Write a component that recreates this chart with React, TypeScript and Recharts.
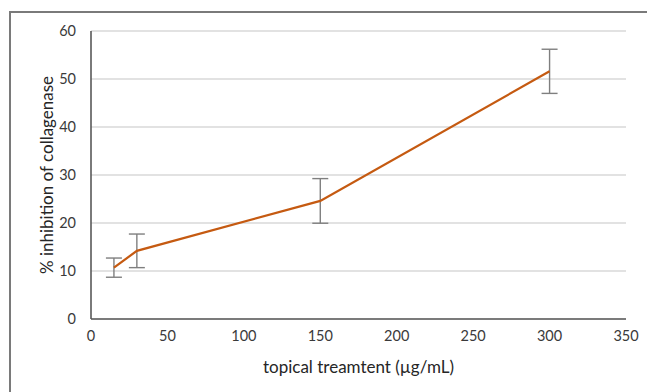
import React from 'react';
import { LineChart, Line, XAxis, YAxis, CartesianGrid, ErrorBar } from 'recharts';

const concentrations = [15, 30, 150, 300];
const inhibition = [10.7, 14.2, 24.6, 51.6];
const errors = [2.0, 3.5, 4.65, 4.6];
const xTicks = [0, 50, 100, 150, 200, 250, 300, 350];
const yTicks = [0, 10, 20, 30, 40, 50, 60];

const data = concentrations.map((c, i) => ({ x: c, y: inhibition[i], err: errors[i] }));

const FONT = 'Lato, "Open Sans", sans-serif';

export default function App() {
  return (
    <div style={{ position: 'absolute', left: 0, top: 0, width: 647, height: 392, background: '#fff', overflow: 'hidden' }}>
      <div style={{ position: 'absolute', left: 9, top: 11, width: 660, height: 400, borderLeft: '2px solid #7a7a7a', borderTop: '2px solid #7a7a7a' }} />
      <div style={{ position: 'absolute', left: 0, top: 0 }}>
        <LineChart width={647} height={392} data={data} margin={{ top: 31, right: 21, bottom: 43, left: 20 }}>
          <CartesianGrid vertical={false} stroke="#d9d9d9" strokeWidth={1.3} />
          <XAxis
            type="number"
            dataKey="x"
            domain={[0, 350]}
            ticks={xTicks}
            tickLine={false}
            tickSize={0}
            tickMargin={12}
            height={30}
            stroke="#595959"
            strokeWidth={1.6}
            tick={{ fill: '#3a3a3a', fontSize: 14.5, fontFamily: FONT }}
            label={{ value: 'topical treamtent (µg/mL)', position: 'bottom', offset: 12, fill: '#262626', fontSize: 17, fontFamily: FONT }}
          />
          <YAxis
            type="number"
            domain={[0, 60]}
            ticks={yTicks}
            tickLine={false}
            tickSize={0}
            tickMargin={15}
            width={71}
            stroke="#595959"
            strokeWidth={1.6}
            tick={{ fill: '#3a3a3a', fontSize: 14.5, fontFamily: FONT }}
            label={{ value: '% inhibition of collagenase', angle: -90, position: 'insideLeft', offset: 27, fill: '#262626', fontSize: 17, fontFamily: FONT, style: { textAnchor: 'middle' } }}
          />
          <Line
            type="linear"
            dataKey="y"
            stroke="#C55A11"
            strokeWidth={2.2}
            dot={false}
            activeDot={false}
            isAnimationActive={false}
          >
            <ErrorBar dataKey="err" direction="y" width={8} stroke="#7f7f7f" strokeWidth={1.4} />
          </Line>
        </LineChart>
      </div>
    </div>
  );
}
